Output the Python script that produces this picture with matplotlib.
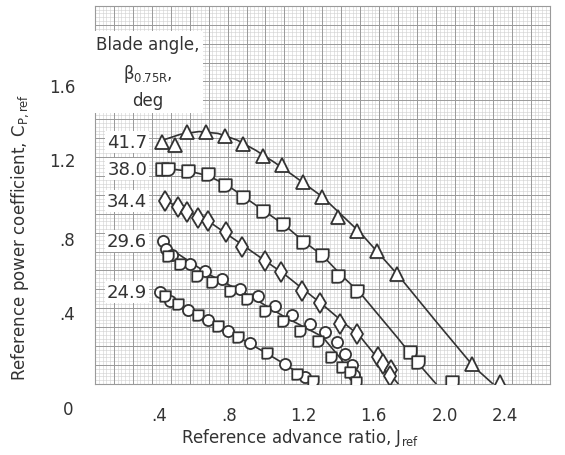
import numpy as np
import matplotlib
matplotlib.use("Agg")
import matplotlib.pyplot as plt
from matplotlib.path import Path

# --- data (J_ref, C_P,ref) ---
ANGLES = ["41.7", "38.0", "34.4", "29.6", "24.9"]

# 41.7 deg, triangles
j_417 = [0.353, 0.422, 0.485, 0.585, 0.686, 0.781, 0.886, 0.986, 1.097, 1.197, 1.282, 1.382, 1.487, 1.593, 1.988, 2.136]
cp_417 = [1.280, 1.265, 1.333, 1.333, 1.312, 1.270, 1.206, 1.159, 1.069, 0.989, 0.884, 0.810, 0.704, 0.582, 0.106, 0.011]
fair_j_417 = [0.36, 0.45, 0.55, 0.65, 0.75, 0.85, 0.95, 1.05, 1.2, 1.4, 1.6, 1.8, 2.0, 2.10]
fair_cp_417 = [1.29, 1.32, 1.335, 1.325, 1.29, 1.235, 1.17, 1.10, 0.99, 0.80, 0.575, 0.33, 0.09, 0.0]

# 38.0 deg, "D" markers
j_380 = [0.353, 0.385, 0.490, 0.596, 0.686, 0.781, 0.886, 0.992, 1.097, 1.197, 1.282, 1.382, 1.661, 1.704, 1.883]
cp_380 = [1.138, 1.138, 1.127, 1.111, 1.053, 0.989, 0.915, 0.847, 0.751, 0.683, 0.571, 0.492, 0.169, 0.116, 0.011]
fair_j_380 = [0.37, 0.5, 0.6, 0.7, 0.8, 0.9, 1.0, 1.1, 1.2, 1.3, 1.4, 1.5, 1.6, 1.7, 1.80]
fair_cp_380 = [1.14, 1.125, 1.10, 1.05, 0.98, 0.91, 0.84, 0.755, 0.68, 0.575, 0.48, 0.36, 0.24, 0.115, 0.0]

# 34.4 deg, diamonds
j_344 = [0.369, 0.438, 0.485, 0.543, 0.596, 0.691, 0.775, 0.897, 0.981, 1.092, 1.187, 1.292, 1.382, 1.493, 1.519, 1.561, 1.556]
cp_344 = [0.968, 0.937, 0.910, 0.878, 0.862, 0.804, 0.725, 0.651, 0.593, 0.492, 0.429, 0.317, 0.265, 0.143, 0.106, 0.074, 0.042]
fair_j_344 = [0.37, 0.6, 0.8, 1.0, 1.2, 1.4, 1.6]
fair_cp_344 = [0.97, 0.86, 0.72, 0.58, 0.42, 0.25, 0.0]

# 29.6 deg, circles + "D" markers
j_296_c = [0.359, 0.374, 0.406, 0.501, 0.580, 0.670, 0.765, 0.860, 0.949, 1.039, 1.134, 1.213, 1.276, 1.319, 1.355, 1.366]
cp_296_c = [0.757, 0.714, 0.683, 0.635, 0.598, 0.556, 0.503, 0.466, 0.413, 0.365, 0.317, 0.275, 0.222, 0.159, 0.101, 0.048]
j_296_d = [0.385, 0.448, 0.538, 0.617, 0.712, 0.802, 0.897, 0.992, 1.081, 1.176, 1.245, 1.303, 1.345, 1.377]
cp_296_d = [0.677, 0.635, 0.571, 0.540, 0.492, 0.450, 0.386, 0.333, 0.280, 0.228, 0.143, 0.090, 0.063, 0.011]
fair_j_296 = [0.36, 0.6, 0.8, 1.0, 1.2, 1.3, 1.37]
fair_cp_296 = [0.74, 0.58, 0.475, 0.355, 0.25, 0.13, 0.0]

# 24.9 deg, circles + "D" markers
j_249_c = [0.343, 0.396, 0.490, 0.596, 0.701, 0.817, 1.002, 1.108]
cp_249_c = [0.487, 0.439, 0.392, 0.339, 0.280, 0.217, 0.106, 0.037]
j_249_d = [0.369, 0.438, 0.543, 0.649, 0.754, 0.907, 1.065, 1.150]
cp_249_d = [0.466, 0.423, 0.365, 0.307, 0.249, 0.164, 0.053, 0.016]
fair_j_249 = [0.34, 0.5, 0.7, 0.9, 1.0, 1.1, 1.16]
fair_cp_249 = [0.49, 0.39, 0.28, 0.165, 0.105, 0.04, 0.0]

# tick labels as printed on the scan
XTICK_LABELS = [".4", ".8", "1.2", "1.6", "2.0", "2.4"]
XTICK_POS = [0.338, 0.707, 1.102, 1.471, 1.846, 2.162]
YTICK_LABELS = [".4", ".8", "1.2", "1.6"]
YTICK_POS = [0.38, 0.77, 1.19, 1.58]

# --- style ---
FONT = ["Liberation Sans Narrow", "DejaVu Sans"]
plt.rcParams["font.family"] = FONT
plt.rcParams["mathtext.fontset"] = "custom"
plt.rcParams["mathtext.rm"] = "Liberation Sans Narrow"
plt.rcParams["mathtext.it"] = "Liberation Sans Narrow"
INK = "#333333"

# square with rounded bottom-right corner (the "D" symbol)
theta = np.linspace(0, -np.pi / 2, 12)
d_verts = [(-1, 1), (1, 1), (1, 0)] + [(np.cos(t), np.sin(t)) for t in theta[1:]] + [(-1, -1), (-1, 1)]
D_MARK = Path(d_verts, closed=True)

fig = plt.figure(figsize=(5.65, 4.56), dpi=100)
ax = fig.add_axes([0.168, 0.156, 0.805, 0.829])
ax.set_xlim(0, 2.4)
ax.set_ylim(0, 2.0)

# graph paper
for v in np.arange(0, 2.4001, 0.02):
    ax.axvline(v, color="#d0d0d0", lw=0.4, zorder=0)
for v in np.arange(0, 2.0001, 0.02):
    ax.axhline(v, color="#d0d0d0", lw=0.4, zorder=0)
for v in np.arange(0, 2.4001, 0.1):
    ax.axvline(v, color="#9a9a9a", lw=0.7, zorder=0)
for v in np.arange(0, 2.0001, 0.1):
    ax.axhline(v, color="#9a9a9a", lw=0.7, zorder=0)

line_kw = dict(color=INK, lw=1.2, zorder=2)
mk_kw = dict(ls="none", mfc="white", mec=INK, mew=1.3, zorder=3)

ax.plot(fair_j_417, fair_cp_417, **line_kw)
ax.plot(fair_j_380, fair_cp_380, **line_kw)
ax.plot(fair_j_344, fair_cp_344, **line_kw)
ax.plot(fair_j_296, fair_cp_296, **line_kw)
ax.plot(fair_j_249, fair_cp_249, **line_kw)

ax.plot(j_417, cp_417, marker="^", ms=10, **mk_kw)
ax.plot(j_380, cp_380, marker=D_MARK, ms=9, **mk_kw)
ax.plot(j_344, cp_344, marker="d", ms=10, **mk_kw)
ax.plot(j_296_c, cp_296_c, marker="o", ms=8, **mk_kw)
ax.plot(j_296_d, cp_296_d, marker=D_MARK, ms=7.5, **mk_kw)
ax.plot(j_249_c, cp_249_c, marker="o", ms=8, **mk_kw)
ax.plot(j_249_d, cp_249_d, marker=D_MARK, ms=7.5, **mk_kw)

# blade angle labels next to first point of each curve
first_cp = [cp_417[0], cp_380[0], cp_344[0], cp_296_c[0], cp_249_c[0]]
for lab, yv in zip(ANGLES, first_cp):
    ax.text(0.17, yv, lab, ha="center", va="center", fontsize=13, color=INK,
            bbox=dict(boxstyle="square,pad=0.12", fc="white", ec="none"), zorder=4)

ax.text(0.28, 1.65, "Blade angle,\n" + r"$\beta_{\mathrm{0.75R}}$," + "\ndeg",
        ha="center", va="center", fontsize=12, color=INK, linespacing=1.55,
        bbox=dict(boxstyle="square,pad=0.2", fc="white", ec="none"), zorder=4)

ax.set_xticks(XTICK_POS, XTICK_LABELS)
ax.set_yticks(YTICK_POS, YTICK_LABELS)
ax.tick_params(length=0, labelsize=12, labelcolor=INK)
ax.tick_params(axis="x", pad=16)
ax.tick_params(axis="y", pad=14)
ax.text(-0.142, -0.132, "0", ha="center", va="center", fontsize=12, color=INK, clip_on=False)

for s in ax.spines.values():
    s.set_color("#9a9a9a")
    s.set_linewidth(0.8)

fig.text(0.531, 0.04, r"Reference advance ratio, $\mathrm{J}_{\mathrm{ref}}$", ha="center", va="center",
         fontsize=12, color=INK)
fig.text(0.036, 0.48, r"Reference power coefficient, $\mathrm{C}_{\mathrm{P,ref}}$", ha="center", va="center",
         rotation=90, fontsize=12, color=INK)

fig.savefig("out.png", dpi=100, facecolor="white")
